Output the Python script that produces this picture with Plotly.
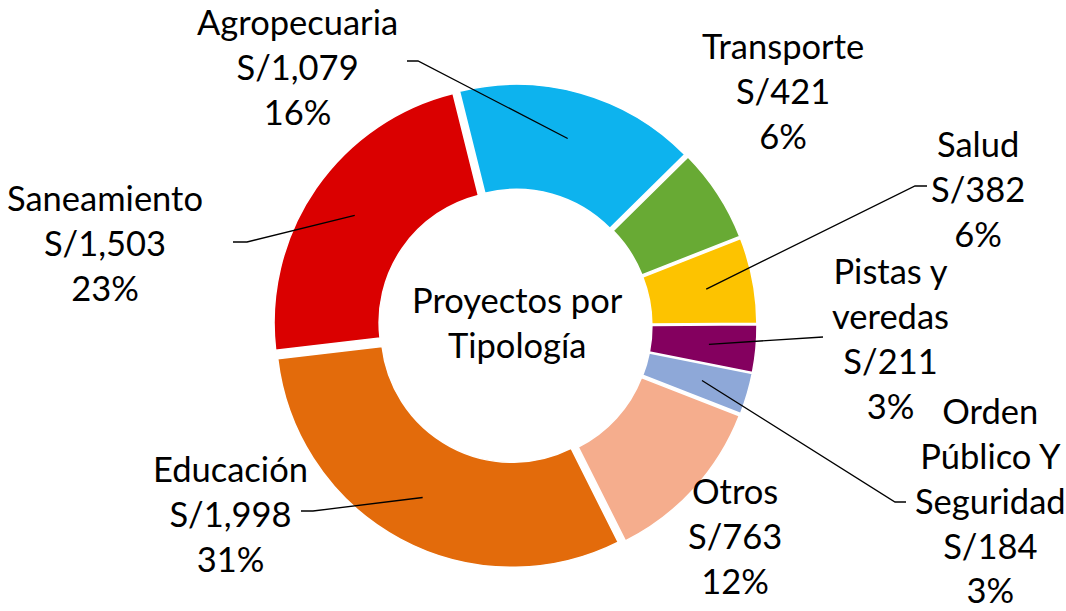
import math
import plotly.graph_objects as go

# ---------------- data ----------------
categories = ["Agropecuaria", "Transporte", "Salud", "Pistas y veredas",
              "Orden Público Y Seguridad", "Otros", "Educación", "Saneamiento"]
label_text = ["Agropecuaria", "Transporte", "Salud", "Pistas y<br>veredas",
              "Orden<br>Público Y<br>Seguridad", "Otros", "Educación", "Saneamiento"]
values = [1079, 421, 382, 211, 184, 763, 1998, 1503]
colors = ["#0DB3EE", "#68AA34", "#FDC300", "#84005F", "#8EA8D8",
          "#F5AD8D", "#E36B0B", "#DA0000"]
center_title = "Proyectos por<br>Tipología"

# ---------------- layout helpers ----------------
W, H = 1066, 611
CX, CY = 515, 326          # donut centre (px)
R_OUT = 242                # outer extent incl. pull (px)
PULL = 0.025
HOLE = 0.555
ROTATION = -14
FONT = "Lato"
FSIZE = 34.5

def px2paper(x, y):
    return x / W, 1 - y / H

# label block centres (px)
label_pos = [(297, 67), (783, 90), (978, 188), (890, 338),
             (990, 500), (735, 535), (230, 513), (105, 243)]
# leader-line anchor points near the labels (start, elbow) in px; None = no line
leader_pts = [((407, 61), (418, 61)), None, ((927, 186), (915, 186)),
              ((823, 337), (823, 337)), ((906, 502), (895, 502)), None,
              ((301, 511), (313, 511)), ((233, 242), (247, 242))]

total = sum(values)
cy_p = 1 - CY / H
cx_p = CX / W
half_h = R_OUT / H
half_w = 0.3

fig = go.Figure(go.Pie(
    labels=categories,
    values=values,
    sort=False,
    direction="clockwise",
    rotation=ROTATION,
    hole=HOLE,
    pull=[PULL] * len(values),
    marker=dict(colors=colors, line=dict(color="white", width=1.5)),
    textinfo="none",
    hoverinfo="label+value+percent",
    showlegend=False,
    domain=dict(x=[cx_p - half_w, cx_p + half_w], y=[cy_p - half_h, cy_p + half_h]),
))

R = R_OUT / (1 + PULL)
annotations = []
shapes = []
cum = 0
for i, v in enumerate(values):
    pct = round(v / total * 100)
    txt = f"{label_text[i]}<br>S/{v:,}<br>{pct}%"
    lx, ly = px2paper(*label_pos[i])
    annotations.append(dict(x=lx, y=ly, xref="paper", yref="paper", text=txt,
                            showarrow=False, xanchor="center", yanchor="middle",
                            align="center", borderpad=0,
                            font=dict(family=FONT, size=FSIZE, color="black")))
    mid = math.radians(ROTATION + (cum + v / 2) / total * 360)
    cum += v
    if leader_pts[i] is not None:
        r_end = R * 0.8 + PULL * R
        ex = CX + r_end * math.sin(mid)
        ey = CY - r_end * math.cos(mid)
        (sx, sy), (bx, by) = leader_pts[i]
        p0 = px2paper(sx, sy)
        p1 = px2paper(bx, by)
        p2 = px2paper(ex, ey)
        path = f"M {p0[0]},{p0[1]} L {p1[0]},{p1[1]} L {p2[0]},{p2[1]}"
        shapes.append(dict(type="path", xref="paper", yref="paper", path=path,
                           line=dict(color="black", width=1.3)))

tx, ty = px2paper(517, 322)
annotations.append(dict(x=tx, y=ty, xref="paper", yref="paper", text=center_title,
                        showarrow=False, xanchor="center", yanchor="middle", align="center",
                        font=dict(family=FONT, size=FSIZE, color="black")))

fig.update_layout(
    width=W, height=H,
    margin=dict(l=0, r=0, t=0, b=0),
    paper_bgcolor="white", plot_bgcolor="white",
    annotations=annotations,
    shapes=shapes,
)

fig.write_html("out.html",
               config={"displayModeBar": False},
               post_script="document.body.style.margin='0';document.body.style.padding='0';"
                           "document.body.style.overflow='hidden';")
